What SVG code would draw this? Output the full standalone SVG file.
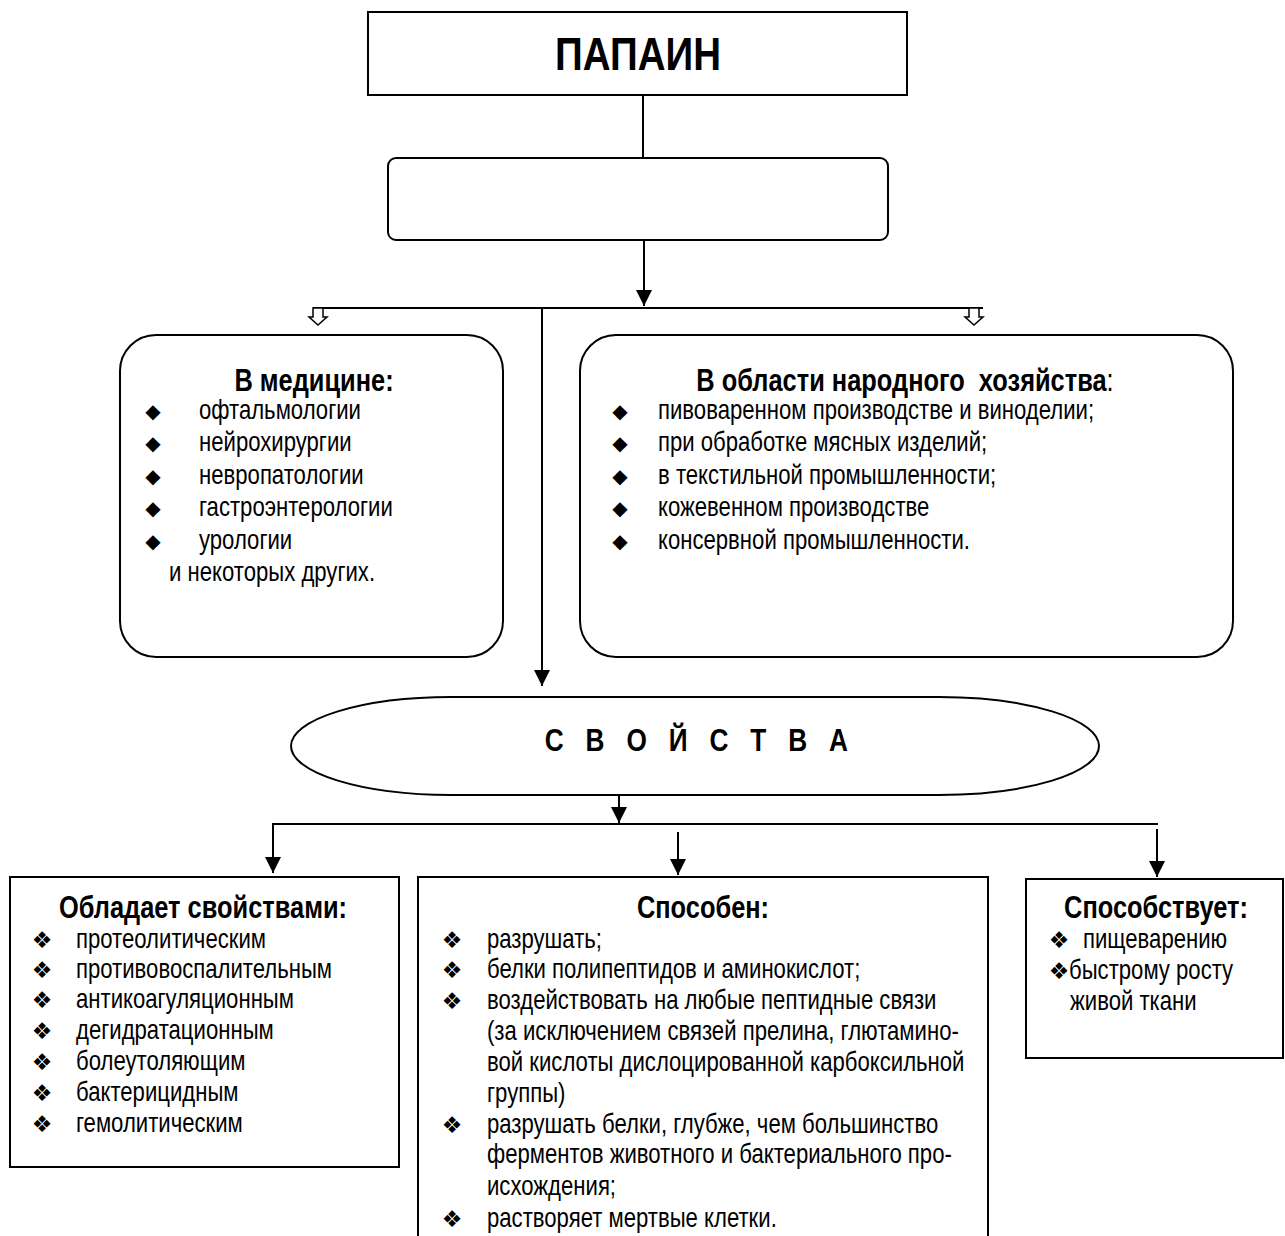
<svg xmlns="http://www.w3.org/2000/svg" width="1285" height="1236" viewBox="0 0 1285 1236">
<style>
.box{fill:#fff;stroke:#000;stroke-width:2}
.ln{fill:none;stroke:#000;stroke-width:2}
.t{font-family:"Liberation Sans",Arial,sans-serif;font-size:27px;fill:#000}
.h{font-family:"Liberation Sans",Arial,sans-serif;font-size:31px;font-weight:bold;fill:#000}
.d{font-family:"DejaVu Sans",sans-serif;font-size:20px;fill:#000;text-anchor:middle}
.q{font-family:"DejaVu Sans",sans-serif;font-size:23px;fill:#000;text-anchor:middle}
.m{text-anchor:middle}
</style>
<defs>
<marker id="ah" markerUnits="userSpaceOnUse" markerWidth="16" markerHeight="16" refX="16" refY="8" orient="auto">
<path d="M0,0 L16,8 L0,16 Z" fill="#000"/>
</marker>
</defs>
<g id="connectors">
<line class="ln" x1="643" y1="95" x2="643" y2="158"/>
<line class="ln" x1="644" y1="240" x2="644" y2="306" marker-end="url(#ah)"/>
<line class="ln" x1="313" y1="308" x2="983" y2="308"/>
<path d="M313,308 L323,308 L323,317 L327,317 L318,325 L309,317 L313,317 Z" fill="#fff" stroke="#000" stroke-width="1.5"/>
<path d="M969,308 L979,308 L979,317 L983,317 L974,325 L965,317 L969,317 Z" fill="#fff" stroke="#000" stroke-width="1.5"/>
<line class="ln" x1="542" y1="308" x2="542" y2="686" marker-end="url(#ah)"/>
<line class="ln" x1="619" y1="790" x2="619" y2="823" marker-end="url(#ah)"/>
<line class="ln" x1="272" y1="824" x2="1158" y2="824"/>
<line class="ln" x1="273" y1="823" x2="273" y2="873" marker-end="url(#ah)"/>
<line class="ln" x1="678" y1="832" x2="678" y2="875" marker-end="url(#ah)"/>
<line class="ln" x1="1157" y1="829" x2="1157" y2="877" marker-end="url(#ah)"/>
</g>
<g id="papain">
<rect class="box" x="368" y="12" width="539" height="83"/>
<text class="m" font-family="Liberation Sans, Arial, sans-serif" font-weight="bold" font-size="47" transform="translate(638,70) scale(0.82 1)">ПАПАИН</text>
</g>
<g id="empty-box">
<rect class="box" x="388" y="158" width="500" height="82" rx="8"/>
</g>
<g id="medicine">
<rect class="box" x="120" y="335" width="383" height="322" rx="36"/>
<text class="h m" transform="translate(314,391) scale(0.82 1)">В медицине:</text>
<text class="d" x="153" y="418">◆</text>
<text class="d" x="153" y="450">◆</text>
<text class="d" x="153" y="483">◆</text>
<text class="d" x="153" y="515">◆</text>
<text class="d" x="153" y="548">◆</text>
<text class="t" transform="translate(199,419) scale(0.82 1)">офтальмологии</text>
<text class="t" transform="translate(199,451) scale(0.82 1)">нейрохирургии</text>
<text class="t" transform="translate(199,484) scale(0.82 1)">невропатологии</text>
<text class="t" transform="translate(199,516) scale(0.82 1)">гастроэнтерологии</text>
<text class="t" transform="translate(199,549) scale(0.82 1)">урологии</text>
<text class="t" transform="translate(169,581) scale(0.82 1)">и некоторых других.</text>
</g>
<g id="economy">
<rect class="box" x="580" y="335" width="653" height="322" rx="36"/>
<text class="h m" transform="translate(905,391) scale(0.82 1)" xml:space="preserve">В области народного  хозяйства<tspan font-weight="normal">:</tspan></text>
<text class="d" x="620" y="418">◆</text>
<text class="d" x="620" y="450">◆</text>
<text class="d" x="620" y="483">◆</text>
<text class="d" x="620" y="515">◆</text>
<text class="d" x="620" y="548">◆</text>
<text class="t" transform="translate(658,419) scale(0.82 1)">пивоваренном производстве и виноделии;</text>
<text class="t" transform="translate(658,451) scale(0.82 1)">при обработке мясных изделий;</text>
<text class="t" transform="translate(658,484) scale(0.82 1)">в текстильной промышленности;</text>
<text class="t" transform="translate(658,516) scale(0.82 1)">кожевенном производстве</text>
<text class="t" transform="translate(658,549) scale(0.82 1)">консервной промышленности.</text>
</g>
<g id="properties">
<rect class="box" x="291" y="697" width="808" height="98" rx="160" ry="49"/>
<text class="m" font-family="Liberation Sans, Arial, sans-serif" font-weight="bold" font-size="32" letter-spacing="8.9" transform="translate(700,751) scale(0.82 1)">С В О Й С Т В А</text>
</g>
<g id="has-properties">
<rect class="box" x="10" y="877" width="389" height="290"/>
<text class="h m" transform="translate(203,918) scale(0.82 1)">Обладает свойствами:</text>
<text class="q" x="42" y="948">❖</text>
<text class="q" x="42" y="978">❖</text>
<text class="q" x="42" y="1008">❖</text>
<text class="q" x="42" y="1039">❖</text>
<text class="q" x="42" y="1070">❖</text>
<text class="q" x="42" y="1101">❖</text>
<text class="q" x="42" y="1132">❖</text>
<text class="t" transform="translate(76,948) scale(0.82 1)">протеолитическим</text>
<text class="t" transform="translate(76,978) scale(0.82 1)">противовоспалительным</text>
<text class="t" transform="translate(76,1008) scale(0.82 1)">антикоагуляционным</text>
<text class="t" transform="translate(76,1039) scale(0.82 1)">дегидратационным</text>
<text class="t" transform="translate(76,1070) scale(0.82 1)">болеутоляющим</text>
<text class="t" transform="translate(76,1101) scale(0.82 1)">бактерицидным</text>
<text class="t" transform="translate(76,1132) scale(0.82 1)">гемолитическим</text>
</g>
<g id="capable">
<rect class="box" x="418" y="877" width="570" height="380"/>
<text class="h m" transform="translate(703,918) scale(0.82 1)">Способен:</text>
<text class="q" x="452" y="948">❖</text>
<text class="q" x="452" y="978">❖</text>
<text class="q" x="452" y="1009">❖</text>
<text class="q" x="452" y="1133">❖</text>
<text class="q" x="452" y="1227">❖</text>
<text class="t" transform="translate(487,948) scale(0.82 1)">разрушать;</text>
<text class="t" transform="translate(487,978) scale(0.82 1)">белки полипептидов и аминокислот;</text>
<text class="t" transform="translate(487,1009) scale(0.82 1)">воздействовать на любые пептидные связи</text>
<text class="t" transform="translate(487,1040) scale(0.82 1)">(за исключением связей прелина, глютамино-</text>
<text class="t" transform="translate(487,1071) scale(0.82 1)">вой кислоты дислоцированной карбоксильной</text>
<text class="t" transform="translate(487,1102) scale(0.82 1)">группы)</text>
<text class="t" transform="translate(487,1133) scale(0.82 1)">разрушать белки, глубже, чем большинство</text>
<text class="t" transform="translate(487,1163) scale(0.82 1)">ферментов животного и бактериального про-</text>
<text class="t" transform="translate(487,1195) scale(0.82 1)">исхождения;</text>
<text class="t" transform="translate(487,1227) scale(0.82 1)">растворяет мертвые клетки.</text>
</g>
<g id="promotes">
<rect class="box" x="1026" y="879" width="257" height="179"/>
<text class="h m" transform="translate(1156,918) scale(0.82 1)">Способствует:</text>
<text class="q" x="1059" y="948">❖</text>
<text class="q" x="1059" y="979">❖</text>
<text class="t" transform="translate(1083,948) scale(0.82 1)">пищеварению</text>
<text class="t" transform="translate(1069,979) scale(0.82 1)">быстрому росту</text>
<text class="t" transform="translate(1070,1010) scale(0.82 1)">живой ткани</text>
</g>
</svg>
